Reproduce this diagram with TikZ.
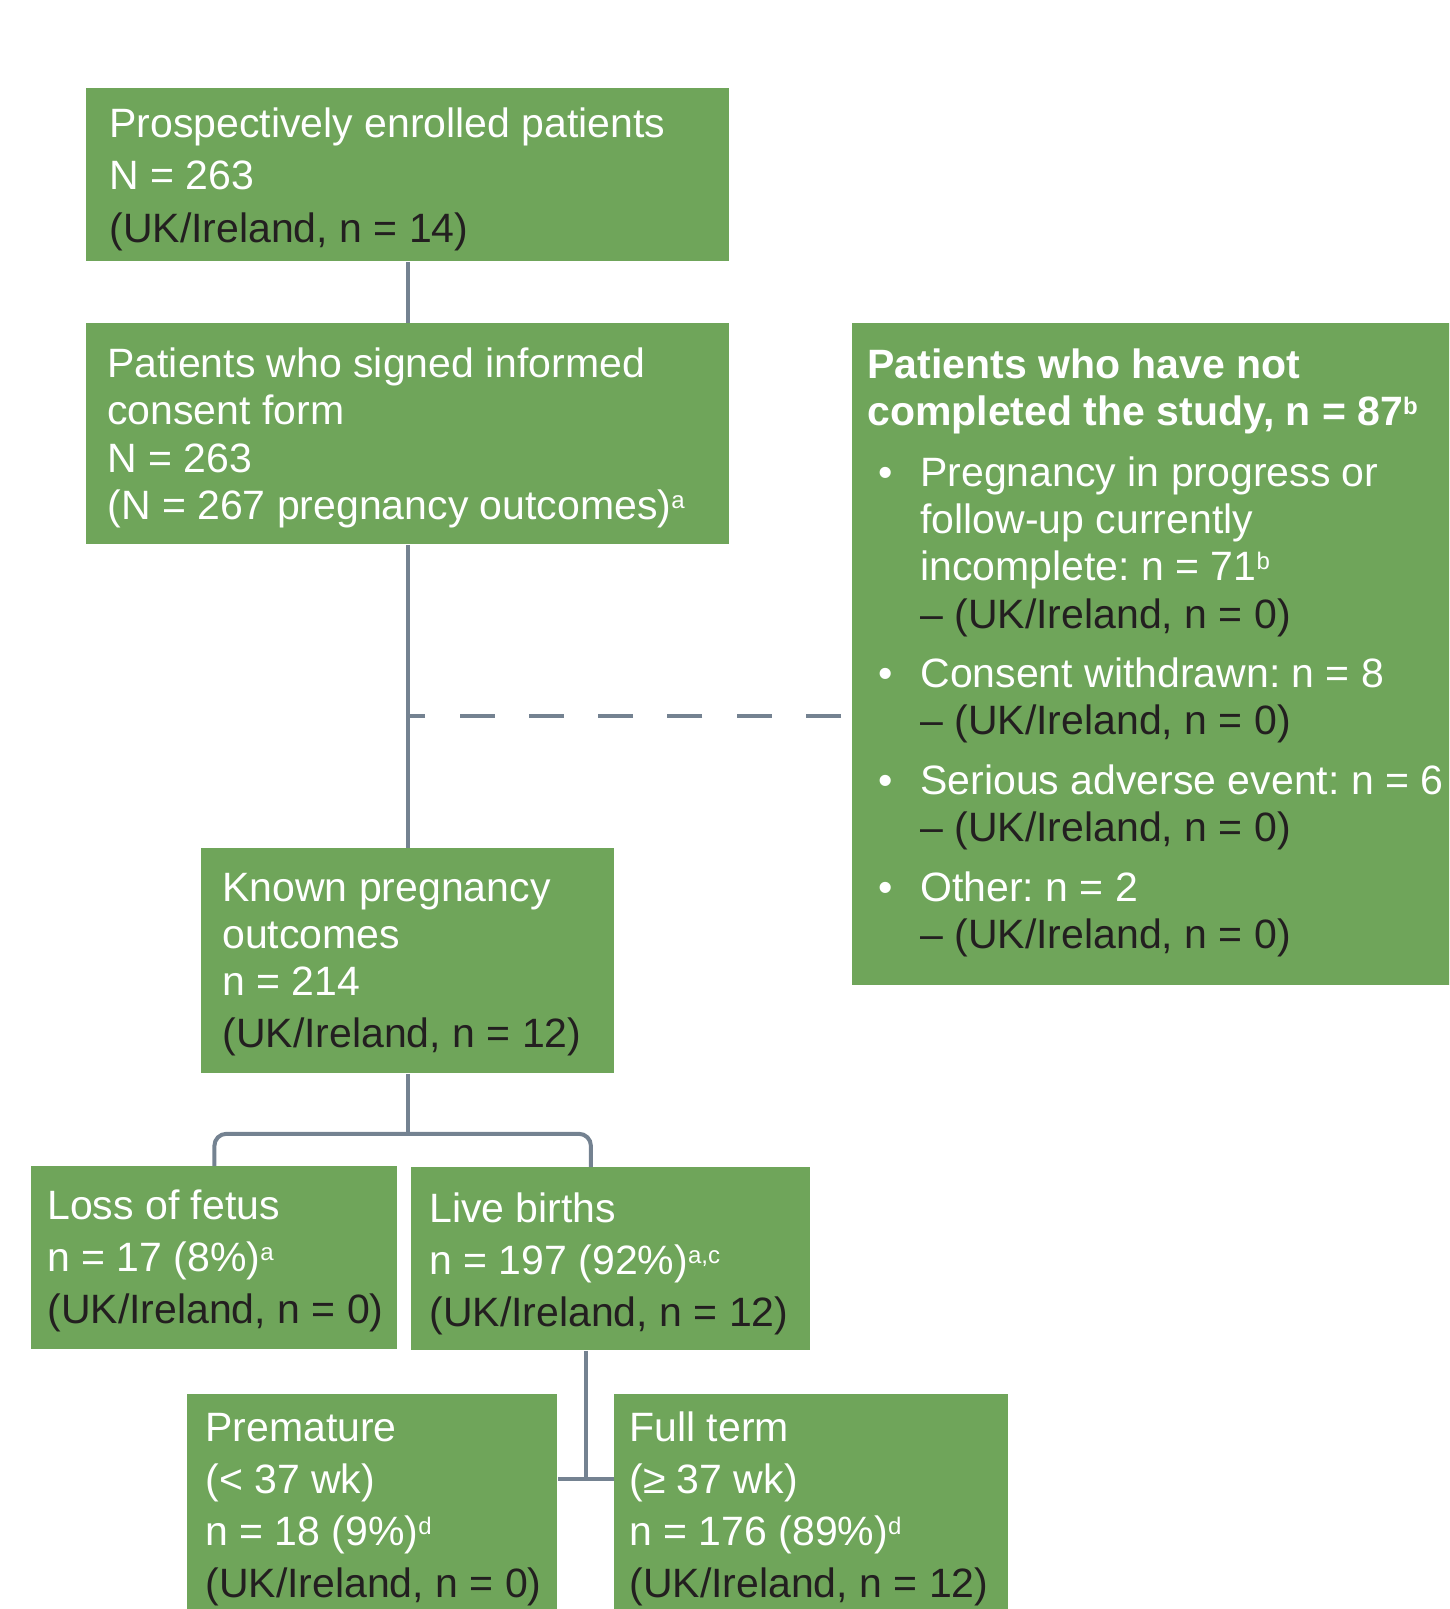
\documentclass[tikz,border=0pt]{standalone}
\usepackage{fontspec}
\setmainfont{Liberation Sans}
\usepackage{tikz}
\usepackage{xcolor}
\definecolor{boxgreen}{RGB}{111,165,90}
\definecolor{linkgray}{RGB}{116,130,145}
\definecolor{ukdark}{RGB}{35,31,32}
\newcommand{\fn}[1]{\raisebox{5.5pt}{\fontsize{12}{12}\selectfont #1}}
\newcommand{\bul}{\makebox[26.5pt][l]{\hspace{5.5pt}•}}
\newcommand{\ind}{\hspace*{26.5pt}}
\frenchspacing

\begin{document}
\begin{tikzpicture}[x=0.5pt,y=-0.5pt,font=\fontsize{20.5}{23.6}\selectfont\frenchspacing,
  box/.style={fill=boxgreen,inner sep=0pt,anchor=north west},
  txt/.style={text=white,align=left,anchor=base west,inner sep=0pt},
  link/.style={linkgray,line width=2pt}]
\path[use as bounding box,clip] (0,0) rectangle (1449,1609);
% boxes
\node[box,minimum width=321.5pt,minimum height=86.5pt] (enrol) at (86,88) {};
\node[box,minimum width=321.5pt,minimum height=110.5pt] (consent) at (86,323) {};
\node[box,minimum width=305pt,minimum height=331pt] (notdone) at (852,323) {};
\node[box,minimum width=206.5pt,minimum height=112.5pt] (known) at (201,848) {};
\node[box,minimum width=183pt,minimum height=91.5pt] (loss) at (31,1166) {};
\node[box,minimum width=199.5pt,minimum height=91.5pt] (live) at (411,1167) {};
\node[box,minimum width=185pt,minimum height=120pt] (prem) at (187,1394) {};
\node[box,minimum width=197pt,minimum height=120pt] (full) at (614,1394) {};
% texts (anchored at the baseline of their last line)
\node[txt] (enrol-t) at (109,242.2) {Prospectively enrolled patients\\[2.55pt]
  N = 263\\[2.55pt]{\color{ukdark}(UK/Ireland, n = 14)}};
\node[txt] (consent-t) at (107,519.3) {Patients who signed informed\\consent form\\
  N = 263\\(N = 267 pregnancy outcomes)\fn{a}};
\node[txt] (notdone-t) at (867,948.2) {{\bfseries Patients who have not}\\
  {\bfseries completed the study, n = 87\fn{b}}\\[6.7pt]
  \bul Pregnancy in progress or\\
  \ind follow-up currently\\
  \ind incomplete: n = 71\fn{b}\\
  \ind{\color{ukdark}– (UK/Ireland, n = 0)}\\[6.15pt]
  \bul Consent withdrawn: n = 8\\
  \ind{\color{ukdark}– (UK/Ireland, n = 0)}\\[6.15pt]
  \bul Serious adverse event: n = 6\\
  \ind{\color{ukdark}– (UK/Ireland, n = 0)}\\[6.15pt]
  \bul Other: n = 2\\
  \ind{\color{ukdark}– (UK/Ireland, n = 0)}};
\node[txt] (known-t) at (222,1047.8) {Known pregnancy\\outcomes\\n = 214\\[2.6pt]
  {\color{ukdark}(UK/Ireland, n = 12)}};
\node[txt] (loss-t) at (47,1323.8) {Loss of fetus\\[2.5pt]n = 17 (8\%)\fn{a}\\[2.5pt]
  {\color{ukdark}(UK/Ireland, n = 0)}};
\node[txt] (live-t) at (429,1326.9) {Live births\\[2.5pt]n = 197 (92\%)\fn{a,c}\\[2.5pt]
  {\color{ukdark}(UK/Ireland, n = 12)}};
\node[txt] (prem-t) at (205,1597.8) {Premature\\[2.5pt](< 37 wk)\\[2.5pt]
  n = 18 (9\%)\fn{d}\\[2.5pt]{\color{ukdark}(UK/Ireland, n = 0)}};
\node[txt] (full-t) at (629,1597.8) {Full term\\[2.5pt](≥ 37 wk)\\[2.5pt]
  n = 176 (89\%)\fn{d}\\[2.5pt]{\color{ukdark}(UK/Ireland, n = 12)}};
% connectors
\path (consent.south) ++(0,171) coordinate (gap);
\path (known.south) ++(0,60) coordinate (fork);
\path (fork) ++(183,0) coordinate (forkr);
\path (live.south) ++(-24.5,0) coordinate (birth);
\path (birth) ++(0,128) coordinate (term);
\draw[link] (enrol.south) -- (consent.north);
\draw[link] (consent.south) -- (known.north);
\draw[link,dash pattern=on 17.5pt off 17.15pt,shorten <=5.5pt] (notdone.west |- gap) -- (gap);
\draw[link] (known.south) -- (fork);
\draw[link,rounded corners=6pt] (loss.north) |- (fork) -| (live.north -| forkr);
\draw[link] (birth) -- (term);
\draw[link] (prem.east |- term) -- (full.west |- term);
\end{tikzpicture}
\end{document}
